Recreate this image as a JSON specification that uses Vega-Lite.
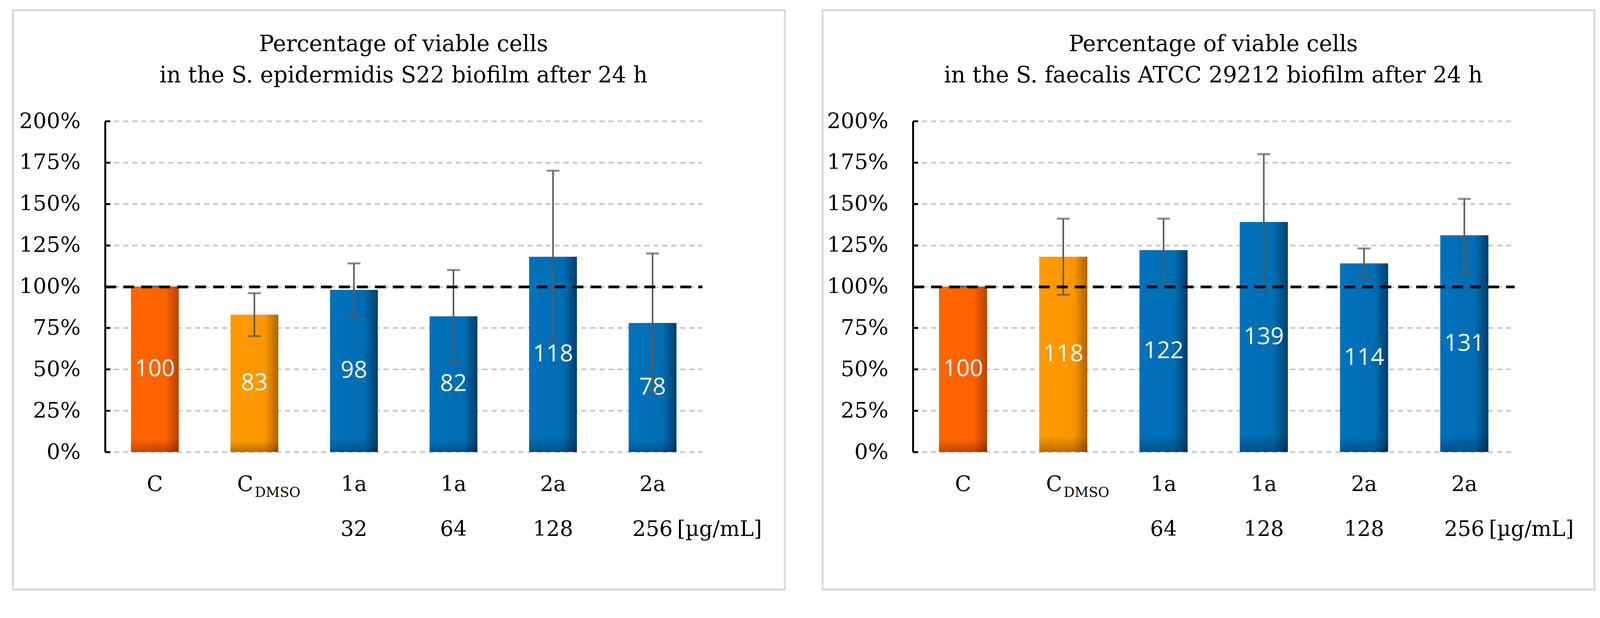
{
  "$schema": "https://vega.github.io/schema/vega-lite/v6.json",
  "background": "white",
  "padding": {"left": 30, "top": 23, "right": 0, "bottom": 0},
  "spacing": 97,
  "bounds": "flush",
  "config": {
    "view": {"stroke": "#d9d9d9", "strokeWidth": 4.8},
    "text": {"font": "DejaVu Serif"}
  },
  "hconcat": [
    {
      "width": 1976,
      "height": 1483,
      "title": {
        "text": ["Percentage of viable cells", "in the S. epidermidis  S22 biofilm after 24 h"],
        "font": "DejaVu Serif", "fontSize": 57, "fontWeight": "normal", "color": "black",
        "lineHeight": 80, "anchor": "middle", "dx": 12, "offset": -197
      },
      "data": {"values": [
        {"k": "C", "comp": "C", "sub": "", "conc": "", "unit": "", "v": 100, "lo": 100, "hi": 100, "grp": "C"},
        {"k": "CDMSO", "comp": "C", "sub": "DMSO", "conc": "", "unit": "", "v": 83, "lo": 70, "hi": 96, "grp": "D"},
        {"k": "1a 32", "comp": "1a", "sub": "", "conc": "32", "unit": "", "v": 98, "lo": 82, "hi": 114, "grp": "B"},
        {"k": "1a 64", "comp": "1a", "sub": "", "conc": "64", "unit": "", "v": 82, "lo": 54, "hi": 110, "grp": "B"},
        {"k": "2a 128", "comp": "2a", "sub": "", "conc": "128", "unit": "", "v": 118, "lo": 67, "hi": 170, "grp": "B"},
        {"k": "2a 256", "comp": "2a", "sub": "", "conc": "256", "unit": "[µg/mL]", "v": 78, "lo": 36, "hi": 120, "grp": "B"}
      ]},
      "resolve": {"axis": {"y": "independent"}},
      "layer": [
        {
          "mark": {"type": "bar"},
          "encoding": {
            "x": {"field": "k", "type": "nominal", "sort": null, "axis": null,
                  "scale": {"range": [236, 1765], "paddingInner": 0.52, "paddingOuter": 0.26}},
            "y": {"field": "v", "type": "quantitative",
                  "scale": {"domain": [0, 200], "range": [1131, 284], "nice": false},
                  "axis": {"orient": "left", "offset": -236, "values": [0, 25, 50, 75, 100, 125, 150, 175, 200],
                           "labelExpr": "datum.value + '%'", "labelFont": "DejaVu Serif", "labelFontSize": 55,
                           "labelColor": "black", "labelPadding": 76, "tickSize": -13, "tickWidth": 5,
                           "tickColor": "black", "domainColor": "black", "domainWidth": 5,
                           "grid": true, "gridColor": "#c4c4c4", "gridDash": [13, 10], "gridWidth": 4, "title": null}},
            "color": {
              "condition": [
                {"test": "datum.grp === 'C'", "value": {"gradient": "linear", "x1": 0, "x2": 1, "y1": 0, "y2": 0,
                  "stops": [{"offset": 0, "color": "#FF6600"}, {"offset": 0.72, "color": "#FF6200"}, {"offset": 1, "color": "#B84000"}]}},
                {"test": "datum.grp === 'D'", "value": {"gradient": "linear", "x1": 0, "x2": 1, "y1": 0, "y2": 0,
                  "stops": [{"offset": 0, "color": "#FF9A00"}, {"offset": 0.72, "color": "#FA9600"}, {"offset": 1, "color": "#B06200"}]}}
              ],
              "value": {"gradient": "linear", "x1": 0, "x2": 1, "y1": 0, "y2": 0,
                "stops": [{"offset": 0, "color": "#0072BC"}, {"offset": 0.72, "color": "#006DB3"}, {"offset": 1, "color": "#003D68"}]}
            }
          }
        },
        {
          "mark": {"type": "bar", "fill": {"gradient": "linear", "x1": 0, "x2": 0, "y1": 0, "y2": 1,
            "stops": [{"offset": 0, "color": "rgba(0,0,0,0)"}, {"offset": 0.92, "color": "rgba(0,0,0,0)"}, {"offset": 1, "color": "rgba(0,0,0,0.28)"}]}},
          "encoding": {
            "x": {"field": "k", "type": "nominal", "sort": null, "axis": null},
            "y": {"field": "v", "type": "quantitative", "axis": null}
          }
        },
        {
          "mark": {"type": "text", "font": "Open Sans", "fontSize": 60, "color": "white", "baseline": "middle", "align": "center"},
          "encoding": {
            "x": {"field": "k", "type": "nominal", "sort": null, "axis": null},
            "y": {"field": "v", "type": "quantitative", "stack": "zero", "bandPosition": 0.5, "axis": null},
            "text": {"field": "v", "type": "quantitative", "format": "d"}
          }
        },
        {
          "mark": {"type": "rule", "color": "#595959", "strokeWidth": 4},
          "encoding": {
            "x": {"field": "k", "type": "nominal", "sort": null, "axis": null},
            "y": {"field": "lo", "type": "quantitative",
                  "axis": {"orient": "left", "offset": -236, "values": [100], "labels": false, "ticks": false, "domain": false,
                           "grid": true, "gridColor": "black", "gridDash": [28, 18], "gridWidth": 7, "zindex": 2, "title": null}},
            "y2": {"field": "hi"}
          }
        },
        {
          "mark": {"type": "tick", "color": "#595959", "thickness": 5, "size": 33, "orient": "horizontal"},
          "encoding": {
            "x": {"field": "k", "type": "nominal", "sort": null, "axis": null},
            "y": {"field": "lo", "type": "quantitative", "axis": null}
          }
        },
        {
          "mark": {"type": "tick", "color": "#595959", "thickness": 5, "size": 33, "orient": "horizontal"},
          "encoding": {
            "x": {"field": "k", "type": "nominal", "sort": null, "axis": null},
            "y": {"field": "hi", "type": "quantitative", "axis": null}
          }
        },
        {
          "transform": [{"filter": "datum.sub === ''"}],
          "mark": {"type": "text", "font": "DejaVu Serif", "fontSize": 54, "color": "black", "baseline": "alphabetic", "align": "center", "dy": 100},
          "encoding": {
            "x": {"field": "k", "type": "nominal", "sort": null, "axis": null},
            "y": {"datum": 0, "axis": null},
            "text": {"field": "comp"}
          }
        },
        {
          "transform": [{"filter": "datum.sub !== ''"}],
          "mark": {"type": "text", "font": "DejaVu Serif", "fontSize": 54, "color": "black", "baseline": "alphabetic", "align": "right", "dx": -3, "dy": 100},
          "encoding": {
            "x": {"field": "k", "type": "nominal", "sort": null, "axis": null},
            "y": {"datum": 0, "axis": null},
            "text": {"field": "comp"}
          }
        },
        {
          "transform": [{"filter": "datum.sub !== ''"}],
          "mark": {"type": "text", "font": "DejaVu Serif", "fontSize": 35, "color": "black", "baseline": "alphabetic", "align": "left", "dx": 1, "dy": 115},
          "encoding": {
            "x": {"field": "k", "type": "nominal", "sort": null, "axis": null},
            "y": {"datum": 0, "axis": null},
            "text": {"field": "sub"}
          }
        },
        {
          "mark": {"type": "text", "font": "DejaVu Serif", "fontSize": 54, "color": "black", "baseline": "alphabetic", "align": "center", "dy": 215},
          "encoding": {
            "x": {"field": "k", "type": "nominal", "sort": null, "axis": null},
            "y": {"datum": 0, "axis": null},
            "text": {"field": "conc"}
          }
        },
        {
          "transform": [{"filter": "datum.unit !== ''"}],
          "mark": {"type": "text", "font": "DejaVu Serif", "fontSize": 54, "color": "black", "baseline": "alphabetic", "align": "left", "dx": 63, "dy": 215},
          "encoding": {
            "x": {"field": "k", "type": "nominal", "sort": null, "axis": null},
            "y": {"datum": 0, "axis": null},
            "text": {"field": "unit"}
          }
        }
      ]
    },
    {
      "width": 1976,
      "height": 1483,
      "title": {
        "text": ["Percentage of viable cells", "in the S. faecalis ATCC 29212 biofilm after 24 h"],
        "font": "DejaVu Serif", "fontSize": 57, "fontWeight": "normal", "color": "black",
        "lineHeight": 80, "anchor": "middle", "dx": 12, "offset": -197
      },
      "data": {"values": [
        {"k": "C", "comp": "C", "sub": "", "conc": "", "unit": "", "v": 100, "lo": 100, "hi": 100, "grp": "C"},
        {"k": "CDMSO", "comp": "C", "sub": "DMSO", "conc": "", "unit": "", "v": 118, "lo": 95, "hi": 141, "grp": "D"},
        {"k": "1a 64", "comp": "1a", "sub": "", "conc": "64", "unit": "", "v": 122, "lo": 103, "hi": 141, "grp": "B"},
        {"k": "1a 128", "comp": "1a", "sub": "", "conc": "128", "unit": "", "v": 139, "lo": 99, "hi": 180, "grp": "B"},
        {"k": "2a 128", "comp": "2a", "sub": "", "conc": "128", "unit": "", "v": 114, "lo": 105, "hi": 123, "grp": "B"},
        {"k": "2a 256", "comp": "2a", "sub": "", "conc": "256", "unit": "[µg/mL]", "v": 131, "lo": 108, "hi": 153, "grp": "B"}
      ]},
      "resolve": {"axis": {"y": "independent"}},
      "layer": [
        {
          "mark": {"type": "bar"},
          "encoding": {
            "x": {"field": "k", "type": "nominal", "sort": null, "axis": null,
                  "scale": {"range": [231, 1771], "paddingInner": 0.52, "paddingOuter": 0.26}},
            "y": {"field": "v", "type": "quantitative",
                  "scale": {"domain": [0, 200], "range": [1131, 284], "nice": false},
                  "axis": {"orient": "left", "offset": -231, "values": [0, 25, 50, 75, 100, 125, 150, 175, 200],
                           "labelExpr": "datum.value + '%'", "labelFont": "DejaVu Serif", "labelFontSize": 55,
                           "labelColor": "black", "labelPadding": 76, "tickSize": -13, "tickWidth": 5,
                           "tickColor": "black", "domainColor": "black", "domainWidth": 5,
                           "grid": true, "gridColor": "#c4c4c4", "gridDash": [13, 10], "gridWidth": 4, "title": null}},
            "color": {
              "condition": [
                {"test": "datum.grp === 'C'", "value": {"gradient": "linear", "x1": 0, "x2": 1, "y1": 0, "y2": 0,
                  "stops": [{"offset": 0, "color": "#FF6600"}, {"offset": 0.72, "color": "#FF6200"}, {"offset": 1, "color": "#B84000"}]}},
                {"test": "datum.grp === 'D'", "value": {"gradient": "linear", "x1": 0, "x2": 1, "y1": 0, "y2": 0,
                  "stops": [{"offset": 0, "color": "#FF9A00"}, {"offset": 0.72, "color": "#FA9600"}, {"offset": 1, "color": "#B06200"}]}}
              ],
              "value": {"gradient": "linear", "x1": 0, "x2": 1, "y1": 0, "y2": 0,
                "stops": [{"offset": 0, "color": "#0072BC"}, {"offset": 0.72, "color": "#006DB3"}, {"offset": 1, "color": "#003D68"}]}
            }
          }
        },
        {
          "mark": {"type": "bar", "fill": {"gradient": "linear", "x1": 0, "x2": 0, "y1": 0, "y2": 1,
            "stops": [{"offset": 0, "color": "rgba(0,0,0,0)"}, {"offset": 0.92, "color": "rgba(0,0,0,0)"}, {"offset": 1, "color": "rgba(0,0,0,0.28)"}]}},
          "encoding": {
            "x": {"field": "k", "type": "nominal", "sort": null, "axis": null},
            "y": {"field": "v", "type": "quantitative", "axis": null}
          }
        },
        {
          "mark": {"type": "text", "font": "Open Sans", "fontSize": 60, "color": "white", "baseline": "middle", "align": "center"},
          "encoding": {
            "x": {"field": "k", "type": "nominal", "sort": null, "axis": null},
            "y": {"field": "v", "type": "quantitative", "stack": "zero", "bandPosition": 0.5, "axis": null},
            "text": {"field": "v", "type": "quantitative", "format": "d"}
          }
        },
        {
          "mark": {"type": "rule", "color": "#595959", "strokeWidth": 4},
          "encoding": {
            "x": {"field": "k", "type": "nominal", "sort": null, "axis": null},
            "y": {"field": "lo", "type": "quantitative",
                  "axis": {"orient": "left", "offset": -231, "values": [100], "labels": false, "ticks": false, "domain": false,
                           "grid": true, "gridColor": "black", "gridDash": [28, 18], "gridWidth": 7, "zindex": 2, "title": null}},
            "y2": {"field": "hi"}
          }
        },
        {
          "mark": {"type": "tick", "color": "#595959", "thickness": 5, "size": 33, "orient": "horizontal"},
          "encoding": {
            "x": {"field": "k", "type": "nominal", "sort": null, "axis": null},
            "y": {"field": "lo", "type": "quantitative", "axis": null}
          }
        },
        {
          "mark": {"type": "tick", "color": "#595959", "thickness": 5, "size": 33, "orient": "horizontal"},
          "encoding": {
            "x": {"field": "k", "type": "nominal", "sort": null, "axis": null},
            "y": {"field": "hi", "type": "quantitative", "axis": null}
          }
        },
        {
          "transform": [{"filter": "datum.sub === ''"}],
          "mark": {"type": "text", "font": "DejaVu Serif", "fontSize": 54, "color": "black", "baseline": "alphabetic", "align": "center", "dy": 100},
          "encoding": {
            "x": {"field": "k", "type": "nominal", "sort": null, "axis": null},
            "y": {"datum": 0, "axis": null},
            "text": {"field": "comp"}
          }
        },
        {
          "transform": [{"filter": "datum.sub !== ''"}],
          "mark": {"type": "text", "font": "DejaVu Serif", "fontSize": 54, "color": "black", "baseline": "alphabetic", "align": "right", "dx": -3, "dy": 100},
          "encoding": {
            "x": {"field": "k", "type": "nominal", "sort": null, "axis": null},
            "y": {"datum": 0, "axis": null},
            "text": {"field": "comp"}
          }
        },
        {
          "transform": [{"filter": "datum.sub !== ''"}],
          "mark": {"type": "text", "font": "DejaVu Serif", "fontSize": 35, "color": "black", "baseline": "alphabetic", "align": "left", "dx": 1, "dy": 115},
          "encoding": {
            "x": {"field": "k", "type": "nominal", "sort": null, "axis": null},
            "y": {"datum": 0, "axis": null},
            "text": {"field": "sub"}
          }
        },
        {
          "mark": {"type": "text", "font": "DejaVu Serif", "fontSize": 54, "color": "black", "baseline": "alphabetic", "align": "center", "dy": 215},
          "encoding": {
            "x": {"field": "k", "type": "nominal", "sort": null, "axis": null},
            "y": {"datum": 0, "axis": null},
            "text": {"field": "conc"}
          }
        },
        {
          "transform": [{"filter": "datum.unit !== ''"}],
          "mark": {"type": "text", "font": "DejaVu Serif", "fontSize": 54, "color": "black", "baseline": "alphabetic", "align": "left", "dx": 63, "dy": 215},
          "encoding": {
            "x": {"field": "k", "type": "nominal", "sort": null, "axis": null},
            "y": {"datum": 0, "axis": null},
            "text": {"field": "unit"}
          }
        }
      ]
    }
  ]
}
